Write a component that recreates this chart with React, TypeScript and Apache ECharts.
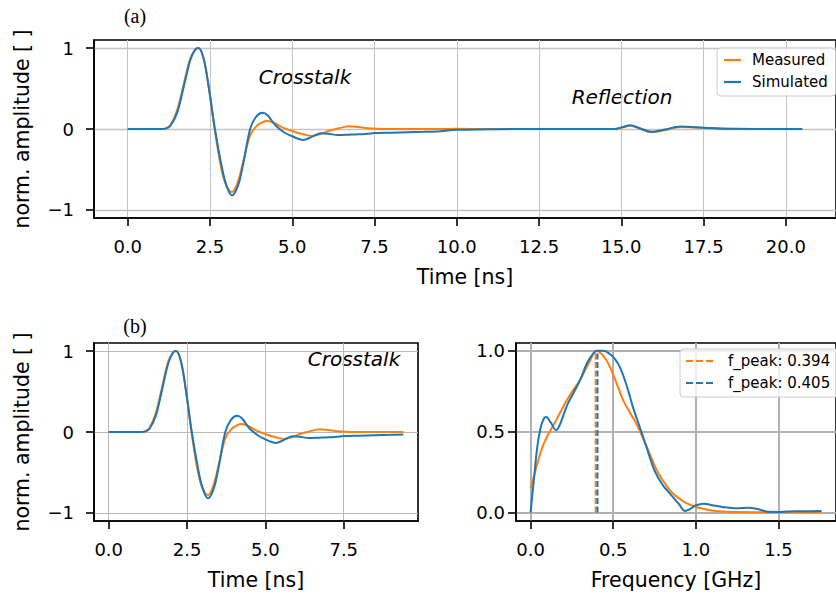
import React, { useEffect, useRef } from "react";
import * as echarts from "echarts";

// ---------- data ----------
const timeNs = [0, 0.5, 1.0, 1.15, 1.3, 1.5, 1.7, 1.9, 2.05, 2.15, 2.3, 2.45, 2.65, 2.85, 3.0, 3.17, 3.35, 3.5, 3.72, 3.9, 4.1, 4.25, 4.48, 4.75, 5.0, 5.18, 5.33, 5.58, 5.88, 6.1, 6.39, 6.73, 7.0, 7.29, 7.5, 8.0, 8.5, 9.0, 9.4, 10.0, 11, 12, 13, 14, 14.8, 15.05, 15.27, 15.55, 15.92, 16.3, 16.8, 17.5, 18.5, 19.5, 20.5];
const measuredAmp = [0, 0, 0, 0.008, 0.05, 0.23, 0.55, 0.87, 0.98, 1.0, 0.88, 0.55, -0.02, -0.5, -0.7, -0.78, -0.65, -0.42, -0.08, 0.03, 0.085, 0.1, 0.07, 0.01, -0.025, -0.05, -0.065, -0.085, -0.06, -0.025, 0.005, 0.035, 0.025, 0.01, 0.005, 0, 0, 0, 0, 0.003, 0, 0, 0, 0, 0, 0.02, 0.04, 0.01, -0.04, -0.015, 0.025, 0.015, 0, 0, 0];
const simulatedAmp = [0, 0, 0, 0.005, 0.04, 0.2, 0.52, 0.85, 0.98, 1.0, 0.88, 0.55, 0.0, -0.45, -0.7, -0.82, -0.7, -0.45, 0.0, 0.15, 0.2, 0.17, 0.05, -0.04, -0.09, -0.12, -0.135, -0.1, -0.054, -0.06, -0.074, -0.07, -0.066, -0.058, -0.05, -0.045, -0.04, -0.035, -0.03, -0.01, -0.004, 0, 0, 0, 0, 0.025, 0.045, 0.01, -0.035, -0.01, 0.03, 0.015, 0.002, 0, 0];

const freqMeasured = [0, 0.03, 0.065, 0.1, 0.144, 0.18, 0.22, 0.26, 0.3, 0.33, 0.36, 0.38, 0.4, 0.43, 0.46, 0.48, 0.52, 0.56, 0.6, 0.64, 0.68, 0.72, 0.76, 0.8, 0.85, 0.886, 0.94, 1.0, 1.07, 1.14, 1.25, 1.4, 1.6, 1.76];
const specMeasured = [0.15, 0.26, 0.385, 0.47, 0.55, 0.62, 0.695, 0.76, 0.82, 0.88, 0.94, 0.98, 1.0, 0.98, 0.94, 0.9, 0.8, 0.695, 0.62, 0.55, 0.46, 0.365, 0.27, 0.2, 0.13, 0.097, 0.06, 0.035, 0.018, 0.008, 0.003, 0.002, 0.002, 0.002];
const freqSimulated = [0, 0.02, 0.04, 0.06, 0.08, 0.095, 0.12, 0.155, 0.18, 0.22, 0.26, 0.3, 0.34, 0.37, 0.4, 0.44, 0.48, 0.51, 0.54, 0.58, 0.62, 0.66, 0.7, 0.75, 0.8, 0.85, 0.9, 0.935, 0.97, 1.0, 1.05, 1.1, 1.16, 1.24, 1.32, 1.38, 1.44, 1.5, 1.55, 1.65, 1.76];
const specSimulated = [0, 0.2, 0.4, 0.52, 0.58, 0.59, 0.56, 0.51, 0.55, 0.66, 0.74, 0.82, 0.92, 0.97, 1.0, 1.0, 0.98, 0.95, 0.9, 0.79, 0.65, 0.53, 0.41, 0.26, 0.17, 0.11, 0.05, 0.01, 0.025, 0.045, 0.055, 0.045, 0.035, 0.027, 0.03, 0.02, 0.005, 0.004, 0.007, 0.008, 0.01];

const peakMeasured = 0.394;
const peakSimulated = 0.405;

const timeTicksFull = [0, 2.5, 5, 7.5, 10, 12.5, 15, 17.5, 20];
const timeTicksZoom = [0, 2.5, 5, 7.5];
const ampTicks = [-1, 0, 1];
const freqTicks = [0, 0.5, 1.0, 1.5];
const specTicks = [0, 0.5, 1.0];

const ORANGE = "#ff7f0e";
const BLUE = "#1f77b4";
const FONT = "DejaVu Sans";
const TICK_FS = 18;
const LABEL_FS = 20.5;

const zip = (xs: number[], ys: number[]) => xs.map((x, i) => [x, ys[i]]);
const zipUntil = (xs: number[], ys: number[], lim: number) =>
  xs.map((x, i) => [x, ys[i]]).filter((p) => p[0] <= lim + 1e-9);

const fmt1 = (v: number) => v.toFixed(1);
const fmtInt = (v: number) => (v < 0 ? "\u2212" + Math.abs(v) : String(v));

function xAxisDef(gridIndex: number, min: number, max: number, ticks: number[], name: string, gridColor: string, gridWidth: number) {
  return {
    type: "value",
    gridIndex,
    min,
    max,
    name,
    nameLocation: "middle",
    nameGap: 48,
    nameTextStyle: { fontSize: LABEL_FS, fontFamily: FONT, color: "#000" },
    axisLine: { show: true, onZero: false, lineStyle: { color: "#000", width: 1.6 } },
    axisTick: { show: true, inside: false, length: 8, customValues: ticks, lineStyle: { color: "#000", width: 1.6 } },
    axisLabel: { customValues: ticks, formatter: fmt1, fontSize: TICK_FS, fontFamily: FONT, color: "#000", margin: 19 },
    splitLine: { show: true, lineStyle: { color: gridColor, width: gridWidth } },
  };
}

function yAxisDef(gridIndex: number, min: number, max: number, ticks: number[], name: string, fmt: (v: number) => string, gridColor: string, gridWidth: number, margin: number) {
  return {
    type: "value",
    gridIndex,
    min,
    max,
    name,
    nameLocation: "middle",
    nameRotate: 90,
    nameGap: 62,
    nameTextStyle: { fontSize: LABEL_FS, fontFamily: FONT, color: "#000" },
    axisLine: { show: true, onZero: false, lineStyle: { color: "#000", width: 1.6 } },
    axisTick: { show: true, inside: false, length: 8, customValues: ticks, lineStyle: { color: "#000", width: 1.6 } },
    axisLabel: { customValues: ticks, formatter: fmt, fontSize: TICK_FS, fontFamily: FONT, color: "#000", margin },
    splitLine: { show: true, lineStyle: { color: gridColor, width: gridWidth } },
  };
}

function lineSeries(name: string, xi: number, data: number[][], color: string, z: number) {
  return {
    type: "line",
    name,
    xAxisIndex: xi,
    yAxisIndex: xi,
    data,
    showSymbol: false,
    symbol: "none",
    smooth: 0.35,
    color,
    lineStyle: { color, width: 2 },
    z,
  };
}

const dashIcon = "path://M0,0h7v2h-7zM10,0h7v2h-7zM20,0h7v2h-7z";

export default function App() {
  const ref = useRef<HTMLDivElement>(null);
  useEffect(() => {
    if (!ref.current) return;
    const chart = echarts.init(ref.current, undefined, { renderer: "svg" });
    const option = {
      animation: false,
      backgroundColor: "#ffffff",
      grid: [
        { left: 94, top: 40, width: 748.6, height: 178, show: true, borderColor: "#000", borderWidth: 1.6, backgroundColor: "transparent" },
        { left: 94, top: 343, width: 324, height: 178, show: true, borderColor: "#000", borderWidth: 1.6, backgroundColor: "transparent" },
        { left: 516, top: 343, width: 325, height: 178, show: true, borderColor: "#000", borderWidth: 1.6, backgroundColor: "transparent" },
      ],
      xAxis: [
        xAxisDef(0, -1.025, 21.525, timeTicksFull, "Time [ns]", "#c4c4c4", 1),
        xAxisDef(1, -0.47, 9.87, timeTicksZoom, "Time [ns]", "#b8b8b8", 1),
        xAxisDef(2, -0.088, 1.848, freqTicks, "Frequency [GHz]", "#b0b0b0", 2),
      ],
      yAxis: [
        yAxisDef(0, -1.1, 1.1, ampTicks, "norm. amplitude [ ]", fmtInt, "#c4c4c4", 1.3, 20),
        yAxisDef(1, -1.1, 1.1, ampTicks, "norm. amplitude [ ]", fmtInt, "#b8b8b8", 1, 20),
        yAxisDef(2, -0.052, 1.048, specTicks, "", fmt1, "#b0b0b0", 2, 11),
      ],
      legend: [
        {
          data: [
            { name: "Measured", icon: "rect" },
            { name: "Simulated", icon: "rect" },
          ],
          orient: "vertical",
          left: 717,
          top: 48,
          itemWidth: 17,
          itemHeight: 2.2,
          itemGap: 4,
          selectedMode: false,
          textStyle: { fontSize: 15, fontFamily: FONT, color: "#000", lineHeight: 18, padding: [0, 0, 0, 6] },
          backgroundColor: "rgba(255,255,255,0.8)",
          borderColor: "#cccccc",
          borderWidth: 1,
          borderRadius: 4,
          padding: [3, 8, 5, 7],
        },
        {
          data: [
            { name: "f_peak: 0.394", icon: dashIcon },
            { name: "f_peak: 0.405", icon: dashIcon },
          ],
          orient: "vertical",
          left: 680,
          top: 349,
          itemWidth: 27,
          itemHeight: 2.2,
          itemGap: 4,
          selectedMode: false,
          textStyle: { fontSize: 15, fontFamily: FONT, color: "#000", lineHeight: 18, padding: [0, 0, 0, 10] },
          backgroundColor: "rgba(255,255,255,0.8)",
          borderColor: "#cccccc",
          borderWidth: 1,
          borderRadius: 4,
          padding: [3, 9, 5, 6],
        },
      ],
      series: [
        lineSeries("Measured", 0, zip(timeNs, measuredAmp), ORANGE, 2),
        lineSeries("Simulated", 0, zip(timeNs, simulatedAmp), BLUE, 3),
        lineSeries("Measured", 1, zipUntil(timeNs, measuredAmp, 9.4), ORANGE, 2),
        lineSeries("Simulated", 1, zipUntil(timeNs, simulatedAmp, 9.4), BLUE, 3),
        lineSeries("Measured spectrum", 2, zip(freqMeasured, specMeasured), ORANGE, 2),
        lineSeries("Simulated spectrum", 2, zip(freqSimulated, specSimulated), BLUE, 3),
        {
          type: "line",
          name: "f_peak: 0.394",
          xAxisIndex: 2,
          yAxisIndex: 2,
          data: [[peakMeasured, 0], [peakMeasured, 1]],
          showSymbol: false,
          symbol: "none",
          color: ORANGE,
          lineStyle: { color: ORANGE, width: 2, type: [6, 2.5] },
          z: 4,
        },
        {
          type: "line",
          name: "f_peak: 0.405",
          xAxisIndex: 2,
          yAxisIndex: 2,
          data: [[peakSimulated, 0], [peakSimulated, 1]],
          showSymbol: false,
          symbol: "none",
          color: BLUE,
          lineStyle: { color: BLUE, width: 2, type: [6, 2.5] },
          z: 4,
        },
      ],
      graphic: [
        { type: "text", x: 135, y: 16, style: { text: "(a)", font: "20px 'Liberation Serif'", fill: "#000", textAlign: "center", textVerticalAlign: "middle" } },
        { type: "text", x: 135, y: 326, style: { text: "(b)", font: "20px 'Liberation Serif'", fill: "#000", textAlign: "center", textVerticalAlign: "middle" } },
        { type: "text", x: 305, y: 77, style: { text: "Crosstalk", font: "italic 20px 'DejaVu Sans'", fill: "#000", textAlign: "center", textVerticalAlign: "middle" } },
        { type: "text", x: 622, y: 97, style: { text: "Reflection", font: "italic 20px 'DejaVu Sans'", fill: "#000", textAlign: "center", textVerticalAlign: "middle" } },
        { type: "text", x: 354, y: 359, style: { text: "Crosstalk", font: "italic 20px 'DejaVu Sans'", fill: "#000", textAlign: "center", textVerticalAlign: "middle" } },
      ],
    };
    chart.setOption(option as any);
    return () => chart.dispose();
  }, []);
  return (
    <div
      ref={ref}
      style={{ position: "absolute", left: 0, top: 0, width: 836, height: 597, overflow: "hidden" }}
    />
  );
}
